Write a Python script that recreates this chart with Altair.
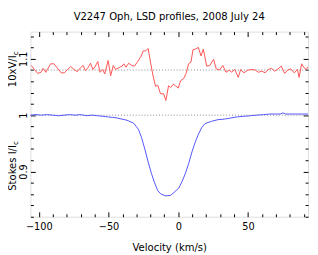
import altair as alt
import pandas as pd

TITLE = "V2247 Oph, LSD profiles, 2008 July 24"
X_TITLE = "Velocity (km/s)"
X_DOMAIN = [-106, 93]
Y_DOMAIN = [0.82, 1.148]
X_TICKS = [-100, -90, -80, -70, -60, -50, -40, -30, -20, -10, 0, 10, 20, 30, 40, 50, 60, 70, 80, 90]
X_LABELS = [-100, -50, 0, 50]
Y_TICKS = [0.82, 0.84, 0.86, 0.88, 0.90, 0.92, 0.94, 0.96, 0.98, 1.00,
           1.02, 1.04, 1.06, 1.08, 1.10, 1.12, 1.14]
Y_LABELS = [0.9, 1.0, 1.1]
REF_LEVELS = [1.0, 1.08]
Y_TITLES = ["10xV/I", "Stokes I/I"]
Y_TITLE_AT = [1.106, 0.947]
Y_TITLE_SUB = ["c", "c"]

# Stokes V (x10, shifted to 1.08)
RED_V = [-105.4, -103.1, -100.8, -98.4, -96.9, -95.0, -91.5, -89.1, -86.8, -84.0,
         -81.7, -79.4, -77.1, -74.7, -72.4, -70.1, -68.2, -66.6, -64.7, -62.9,
         -61.2, -59.6, -57.7, -56.1, -54.2, -52.7, -50.3, -48.5, -46.6, -45.0,
         -42.6, -40.3, -39.1, -37.5, -35.6, -33.3, -31.4, -29.1, -26.8, -25.1,
         -23.5, -21.6, -19.8, -18.2, -16.3, -14.7, -12.8, -10.5, -8.9, -7.0,
         -5.4, -3.5, -1.9, 0.0, 1.6, 3.9, 5.6, 7.4, 9.1, 10.5,
         12.1, 14.4, 16.3, 17.9, 19.1, 20.3, 22.6, 25.3, 27.2, 29.5,
         31.9, 34.2, 36.6, 38.1, 40.5, 43.0, 44.7, 47.0, 49.3, 51.7,
         55.2, 57.5, 59.8, 62.2, 64.5, 66.8, 69.1, 71.5, 73.8, 76.2,
         78.5, 80.7, 83.1, 85.4, 86.6, 88.4, 90.1, 91.7, 93.0]
RED_VAL = [1.088, 1.081, 1.074, 1.076, 1.083, 1.076, 1.091, 1.091, 1.084, 1.075,
           1.075, 1.081, 1.086, 1.081, 1.077, 1.084, 1.088, 1.079, 1.084, 1.092,
           1.081, 1.086, 1.095, 1.076, 1.081, 1.073, 1.097, 1.070, 1.088, 1.081,
           1.084, 1.087, 1.091, 1.085, 1.092, 1.088, 1.087, 1.095, 1.104, 1.114,
           1.114, 1.118, 1.092, 1.071, 1.051, 1.053, 1.038, 1.038, 1.026, 1.052,
           1.049, 1.055, 1.052, 1.048, 1.061, 1.065, 1.074, 1.091, 1.094, 1.116,
           1.117, 1.120, 1.105, 1.117, 1.103, 1.087, 1.088, 1.099, 1.082, 1.080,
           1.088, 1.076, 1.080, 1.076, 1.081, 1.067, 1.081, 1.075, 1.079, 1.081,
           1.080, 1.076, 1.078, 1.075, 1.081, 1.083, 1.078, 1.082, 1.087, 1.074,
           1.080, 1.082, 1.075, 1.081, 1.067, 1.091, 1.084, 1.081, 1.086]

# Stokes I
BLUE_V = [-106, -102, -98, -94, -90, -86, -82, -78, -74, -70,
          -66, -62, -58, -54, -50.8, -47, -43.8, -40.3, -36.8, -32.1,
          -28.6, -26.3, -24.0, -21.6, -19.3, -17.0, -14.7, -12.4, -8.9, -5.4,
          -3.1, 0.4, 2.8, 5.1, 7.4, 9.8, 12.1, 14.4, 16.8, 19.1,
          23.7, 28.4, 33.0, 37.7, 42.3, 47.0, 51.7, 56.3, 61.0, 65.6,
          70.3, 73.0, 75.0, 77.0, 79.6, 84.3, 89.0, 93.0]
BLUE_VAL = [1.000, 1.001, 1.000, 1.001, 1.000, 0.999, 1.000, 1.001, 1.000, 1.001,
            0.999, 1.000, 0.999, 0.998, 0.997, 0.996, 0.995, 0.993, 0.991, 0.986,
            0.975, 0.960, 0.940, 0.917, 0.897, 0.880, 0.866, 0.860, 0.857, 0.858,
            0.863, 0.871, 0.883, 0.897, 0.914, 0.935, 0.952, 0.966, 0.978, 0.985,
            0.989, 0.992, 0.993, 0.995, 0.997, 0.998, 0.999, 1.000, 1.001, 1.002,
            1.002, 1.002, 1.004, 1.002, 1.002, 1.002, 1.002, 1.002]

W, H = 285, 190
FONT = "DejaVu Sans"
LABEL_SIZE = 10
TEXT_SIZE = 10.3
RED = "#ff5252"
BLUE = "#5252ff"

red_df = pd.DataFrame({"v": RED_V, "val": RED_VAL})
blue_df = pd.DataFrame({"v": BLUE_V, "val": BLUE_VAL})
ref_df = pd.DataFrame({"level": REF_LEVELS,
                       "x0": [X_DOMAIN[0]] * len(REF_LEVELS),
                       "x1": [X_DOMAIN[1]] * len(REF_LEVELS)})
ytitle_df = pd.DataFrame({"label": Y_TITLES, "at": Y_TITLE_AT, "sub": Y_TITLE_SUB})
title_df = pd.DataFrame({"t": [TITLE]})

xs = alt.Scale(domain=X_DOMAIN, nice=False, zero=False)
ys = alt.Scale(domain=Y_DOMAIN, nice=False, zero=False)

x_major = "datum.value % 50 === 0"
y_major = "abs(datum.value * 10 - round(datum.value * 10)) < 0.001"
x_tick_size = {"condition": {"test": x_major, "value": 5}, "value": 3}
y_tick_size = {"condition": {"test": y_major, "value": 5}, "value": 3}

tick_common = dict(labels=False, domain=False, grid=False, title=None,
                   tickColor="black", tickWidth=1)

axis_x_labels = alt.Axis(orient="bottom", values=X_LABELS, ticks=False, tickSize=0,
                         domain=False, grid=False, labelFlush=False, labelPadding=5,
                         labelFont=FONT, labelFontSize=LABEL_SIZE, labelColor="black",
                         title=X_TITLE, titleFont=FONT, titleFontSize=TEXT_SIZE,
                         titleFontWeight="normal", titleColor="black", titlePadding=12)
axis_y_labels = alt.Axis(orient="left", values=Y_LABELS, ticks=False, tickSize=0,
                         domain=False, grid=False, labelAngle=270, labelAlign="center",
                         labelBaseline="bottom", labelPadding=2, format="~g",
                         labelFont=FONT, labelFontSize=LABEL_SIZE, labelColor="black",
                         labelFlush=False, title=None)
axis_x_top = alt.Axis(orient="bottom", offset=-H, values=X_TICKS,
                      tickSize=x_tick_size, **tick_common)
axis_x_bottom = alt.Axis(orient="top", offset=-H, values=X_TICKS,
                         tickSize=x_tick_size, **tick_common)
axis_y_left = alt.Axis(orient="right", offset=-W, values=Y_TICKS,
                       tickSize=y_tick_size, **tick_common)
axis_y_right = alt.Axis(orient="left", offset=-W, values=Y_TICKS,
                        tickSize=y_tick_size, **tick_common)

rules = alt.Chart(ref_df).mark_rule(color="#8a8a8a", strokeDash=[1, 2], strokeWidth=1).encode(
    x=alt.X("x0:Q", scale=xs, axis=axis_x_bottom),
    x2="x1:Q",
    y=alt.Y("level:Q", scale=ys, axis=axis_y_right),
)

red = alt.Chart(red_df).mark_line(color=RED, strokeWidth=1, clip=True).encode(
    x=alt.X("v:Q", scale=xs, axis=axis_x_labels),
    y=alt.Y("val:Q", scale=ys, axis=axis_y_labels),
    order="v:Q",
)

blue = alt.Chart(blue_df).mark_line(color=BLUE, strokeWidth=1, clip=True).encode(
    x=alt.X("v:Q", scale=xs, axis=axis_x_top),
    y=alt.Y("val:Q", scale=ys, axis=axis_y_left),
    order="v:Q",
)

ytitles = alt.Chart(ytitle_df).mark_text(angle=270, align="right", baseline="alphabetic",
                                         font=FONT, fontSize=TEXT_SIZE, color="black").encode(
    x=alt.value(-15),
    y=alt.Y("at:Q", scale=ys, axis=None),
    text="label:N",
)

ysubs = alt.Chart(ytitle_df).mark_text(angle=270, align="left", baseline="alphabetic", dy=2,
                                       font=FONT, fontSize=7.5, color="black").encode(
    x=alt.value(-15),
    y=alt.Y("at:Q", scale=ys, axis=None),
    text="sub:N",
)

title = alt.Chart(title_df).mark_text(align="center", baseline="top", font=FONT,
                                      fontSize=TEXT_SIZE, color="black").encode(
    x=alt.value(W / 2),
    y=alt.value(-20),
    text="t:N",
)

chart = alt.layer(rules, red, blue, ytitles, ysubs, title).resolve_axis(
    x="independent", y="independent"
).properties(
    width=W, height=H,
    autosize=alt.AutoSizeParams(type="none"),
    padding={"left": 23, "top": 21, "right": 2, "bottom": 36},
).configure_view(stroke="black", strokeWidth=1).configure(background="white")

chart.save("out.html", embed_options={"renderer": "svg", "actions": False})
